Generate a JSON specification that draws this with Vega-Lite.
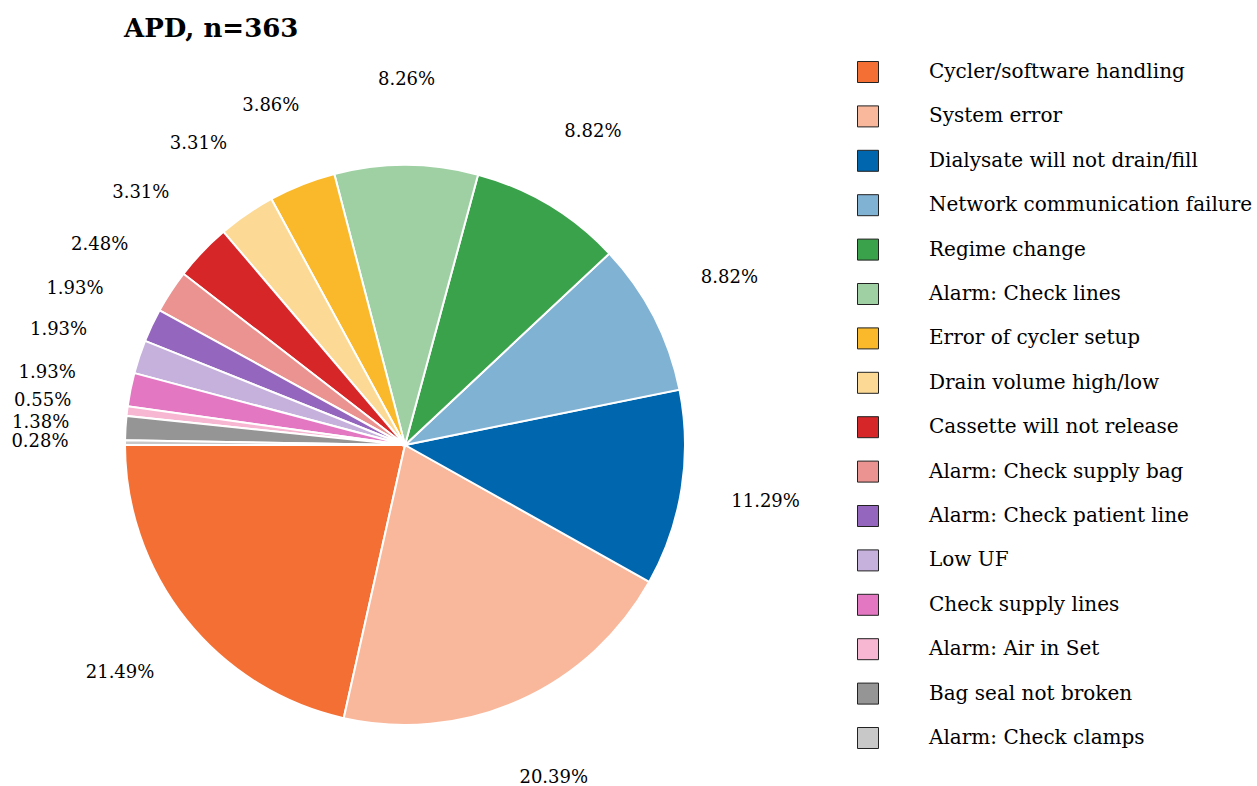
{
  "$schema": "https://vega.github.io/schema/vega-lite/v6.json",
  "autosize": "none",
  "width": 810,
  "height": 682,
  "padding": {"left": 0, "top": 104, "right": 447, "bottom": 0},
  "background": "white",
  "title": {
    "text": "APD, n=363",
    "anchor": "start",
    "frame": "group",
    "font": "DejaVu Serif",
    "fontSize": 26,
    "fontWeight": "bold",
    "color": "black",
    "baseline": "alphabetic",
    "dx": 124,
    "dy": 46,
    "offset": 44
  },
  "data": {
    "values": [
      {"idx": 1, "cause": "Cycler/software handling", "count": 78, "label": "21.49%"},
      {"idx": 2, "cause": "System error", "count": 74, "label": "20.39%"},
      {"idx": 3, "cause": "Dialysate will not drain/fill", "count": 41, "label": "11.29%"},
      {"idx": 4, "cause": "Network communication failure", "count": 32, "label": "8.82%"},
      {"idx": 5, "cause": "Regime change", "count": 32, "label": "8.82%"},
      {"idx": 6, "cause": "Alarm: Check lines", "count": 30, "label": "8.26%"},
      {"idx": 7, "cause": "Error of cycler setup", "count": 14, "label": "3.86%"},
      {"idx": 8, "cause": "Drain volume high/low", "count": 12, "label": "3.31%"},
      {"idx": 9, "cause": "Cassette will not release", "count": 12, "label": "3.31%"},
      {"idx": 10, "cause": "Alarm: Check supply bag", "count": 9, "label": "2.48%"},
      {"idx": 11, "cause": "Alarm: Check patient line", "count": 7, "label": "1.93%"},
      {"idx": 12, "cause": "Low UF", "count": 7, "label": "1.93%"},
      {"idx": 13, "cause": "Check supply lines", "count": 7, "label": "1.93%"},
      {"idx": 14, "cause": "Alarm: Air in Set", "count": 2, "label": "0.55%"},
      {"idx": 15, "cause": "Bag seal not broken", "count": 5, "label": "1.38%"},
      {"idx": 16, "cause": "Alarm: Check clamps", "count": 1, "label": "0.28%"}
    ]
  },
  "encoding": {
    "theta": {"field": "count", "type": "quantitative", "stack": true, "scale": {"range": [-1.5707963, 4.712389]}},
    "order": {"field": "idx", "type": "quantitative", "sort": "descending"}
  },
  "layer": [
    {
      "mark": {"type": "arc", "outerRadius": 280, "stroke": "white", "strokeWidth": 2},
      "encoding": {
        "color": {
          "field": "cause",
          "type": "nominal",
          "scale": {
            "domain": ["Cycler/software handling", "System error", "Dialysate will not drain/fill", "Network communication failure", "Regime change", "Alarm: Check lines", "Error of cycler setup", "Drain volume high/low", "Cassette will not release", "Alarm: Check supply bag", "Alarm: Check patient line", "Low UF", "Check supply lines", "Alarm: Air in Set", "Bag seal not broken", "Alarm: Check clamps"],
            "range": ["#f36f34", "#f9b79b", "#0066ad", "#80b2d4", "#3aa24b", "#9ed0a4", "#f9b92b", "#fcda95", "#d62628", "#ea9391", "#9466bd", "#c6b0dc", "#e377c2", "#f7b6d2", "#959595", "#c8c8c8"]
          },
          "legend": {
            "title": null,
            "orient": "none",
            "legendX": 857,
            "legendY": -43,
            "padding": 0,
            "symbolType": "square",
            "symbolSize": 441,
            "symbolStrokeColor": "#222222",
            "symbolStrokeWidth": 1,
            "symbolOpacity": 1,
            "labelFont": "DejaVu Serif",
            "labelFontSize": 20,
            "labelColor": "black",
            "labelOffset": 50,
            "labelLimit": 500,
            "rowPadding": 18.4
          }
        }
      }
    },
    {
      "mark": {"type": "text", "radius": 365, "font": "DejaVu Serif", "fontSize": 18, "color": "black", "align": "center", "baseline": "middle"},
      "encoding": {
        "text": {"field": "label", "type": "nominal"}
      }
    }
  ]
}
